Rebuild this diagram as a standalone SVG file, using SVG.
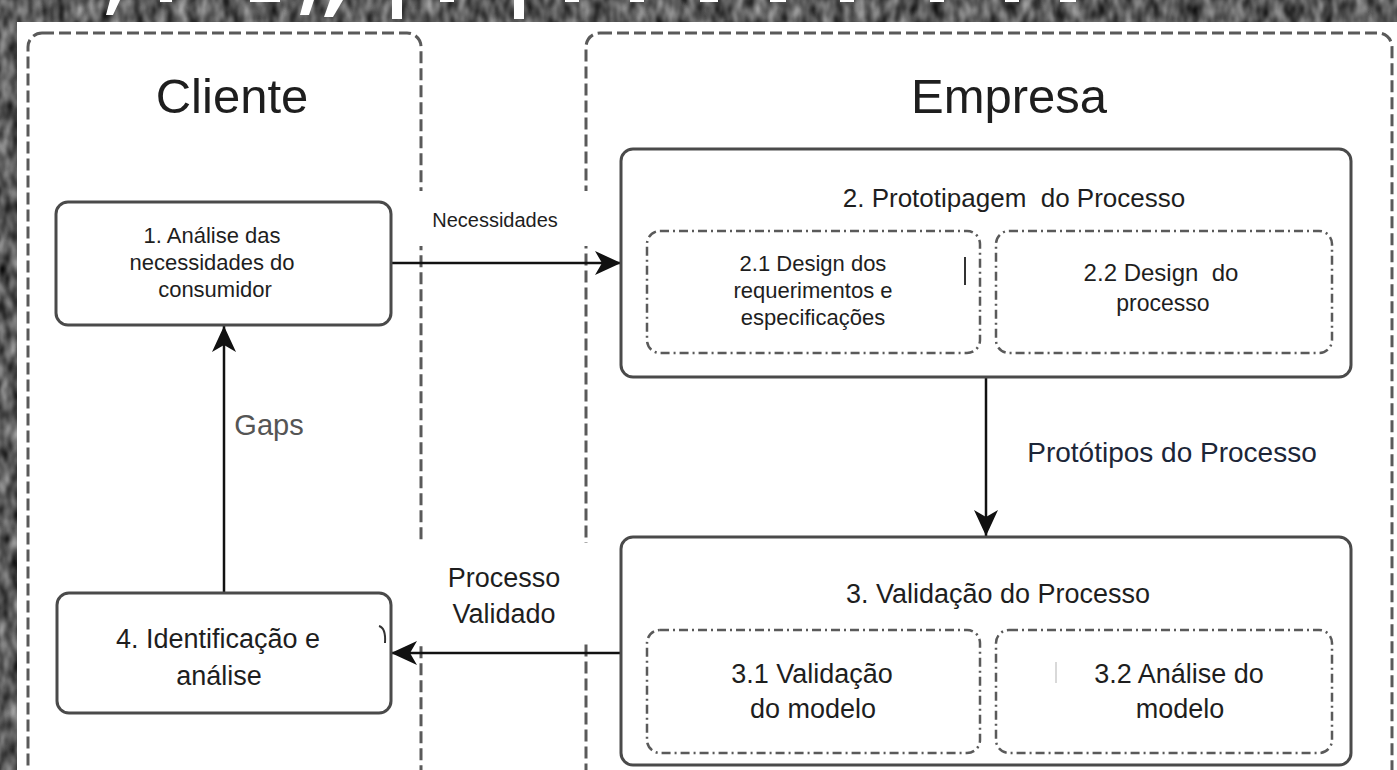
<svg xmlns="http://www.w3.org/2000/svg" width="1397" height="770" viewBox="0 0 1397 770">
<style>
text{font-family:"Liberation Sans",Arial,sans-serif;fill:#1e1e1e;text-anchor:middle}
.cont{fill:none;stroke:#5a5a5a;stroke-width:3;stroke-dasharray:12 5}
.node{fill:#fff;stroke:#4a4a4a;stroke-width:3}
.sub{fill:none;stroke:#5a5a5a;stroke-width:2.5;stroke-dasharray:9 4 2 4}
.conn{stroke:#111;stroke-width:2.5;fill:none;marker-end:url(#arr)}
</style>
<defs>
<filter id="noise" x="0" y="0" width="100%" height="100%" color-interpolation-filters="sRGB">
<feTurbulence type="fractalNoise" baseFrequency="0.09 0.05" numOctaves="2" seed="7"/>
<feColorMatrix type="matrix" values="0.8 0 0 0 -0.05  0.8 0 0 0 -0.05  0.8 0 0 0 -0.05  0 0 0 0 1"/>
</filter>
<marker id="arr" viewBox="0 0 26 24" refX="26" refY="12" markerWidth="26" markerHeight="24" markerUnits="userSpaceOnUse" orient="auto">
<path d="M0,0 L26,12 L0,24 L7,12 z" fill="#111"/>
</marker>
</defs>
<rect x="0" y="0" width="1397" height="770" fill="#5a5a5a" filter="url(#noise)"/>
<g id="header-fragments" fill="#fff">
<path d="M110,0 L120,0 L113,15 L106,15 z"/>
<path d="M304,0 L314,0 L309,15 L300,15 z"/>
<path d="M330,0 L343,0 L333,17 L324,17 z"/>
<rect x="392" y="0" width="10" height="19"/>
<rect x="514" y="0" width="10" height="19"/>
<rect x="160" y="0" width="12" height="2"/>
<rect x="250" y="0" width="30" height="2"/>
<rect x="440" y="0" width="14" height="2"/>
<rect x="565" y="0" width="14" height="2"/>
<rect x="630" y="0" width="14" height="2"/>
<rect x="700" y="0" width="18" height="2"/>
<rect x="770" y="0" width="16" height="2"/>
<rect x="840" y="0" width="14" height="2"/>
<rect x="930" y="0" width="14" height="2"/>
<rect x="1005" y="0" width="14" height="2"/>
<rect x="1060" y="0" width="16" height="2"/>
</g>
<rect x="17" y="22" width="1380" height="748" fill="#fff"/>
<g id="lanes">
<rect id="lane-cliente" class="cont" x="28" y="33" width="393" height="780" rx="14"/>
<rect id="lane-empresa" class="cont" x="586" y="33" width="806" height="780" rx="14"/>
<text x="232" y="113" font-size="49">Cliente</text>
<text x="1009" y="113" font-size="49">Empresa</text>
</g>
<g id="label-bg" fill="#fff">
<rect x="410" y="191" width="186" height="55"/>
<rect x="410" y="543" width="186" height="99"/>
</g>
<g id="connectors">
<line class="conn" x1="391" y1="263" x2="621" y2="263"/>
<line class="conn" x1="986" y1="377" x2="986" y2="536"/>
<line class="conn" x1="621" y1="653" x2="391" y2="653"/>
<line class="conn" x1="224" y1="593" x2="224" y2="326"/>
<text x="495" y="227" font-size="20">Necessidades</text>
<text x="1172" y="462" font-size="28" style="fill:#1c2638">Protótipos do Processo</text>
<text x="269" y="435" font-size="29" style="fill:#555">Gaps</text>
<text x="504" y="587" font-size="27">Processo</text>
<text x="504" y="623" font-size="27">Validado</text>
</g>
<g id="node1">
<rect class="node" x="56" y="202" width="335" height="123" rx="12"/>
<text x="212" y="243" font-size="22">1. Análise das</text>
<text x="212" y="270" font-size="22">necessidades do</text>
<text x="215" y="297" font-size="22">consumidor</text>
</g>
<g id="node2">
<rect class="node" x="621" y="149" width="730" height="228" rx="12"/>
<text x="1014" y="207" font-size="26">2. Prototipagem&#160; do Processo</text>
</g>
<g id="node2-1">
<rect class="sub" x="647" y="231" width="333" height="122" rx="13"/>
<text x="813" y="271" font-size="22">2.1 Design dos</text>
<text x="813" y="298" font-size="22">requerimentos e</text>
<text x="813" y="325" font-size="22">especificações</text>
<line x1="965" y1="257" x2="965" y2="285" stroke="#333" stroke-width="2"/>
</g>
<g id="node2-2">
<rect class="sub" x="996" y="231" width="336" height="122" rx="13"/>
<text x="1161" y="281" font-size="24">2.2 Design&#160; do</text>
<text x="1163" y="311" font-size="23">processo</text>
</g>
<g id="node3">
<rect class="node" x="621" y="537" width="730" height="228" rx="12"/>
<text x="998" y="603" font-size="27">3. Validação do Processo</text>
</g>
<g id="node3-1">
<rect class="sub" x="647" y="630" width="333" height="123" rx="13"/>
<text x="812" y="683" font-size="27">3.1 Validação</text>
<text x="813" y="718" font-size="27">do modelo</text>
</g>
<g id="node3-2">
<rect class="sub" x="996" y="630" width="336" height="123" rx="13"/>
<text x="1179" y="683" font-size="27">3.2 Análise do</text>
<text x="1180" y="718" font-size="27">modelo</text>
<line x1="1056" y1="662" x2="1056" y2="683" stroke="#ccc" stroke-width="1.5"/>
</g>
<g id="node4">
<rect class="node" x="57" y="593" width="334" height="120" rx="12"/>
<text x="218" y="648" font-size="27">4. Identificação e</text>
<text x="219" y="685" font-size="27">análise</text>
<path d="M379,626 Q386,628 385,643" fill="none" stroke="#333" stroke-width="2"/>
</g>
</svg>
